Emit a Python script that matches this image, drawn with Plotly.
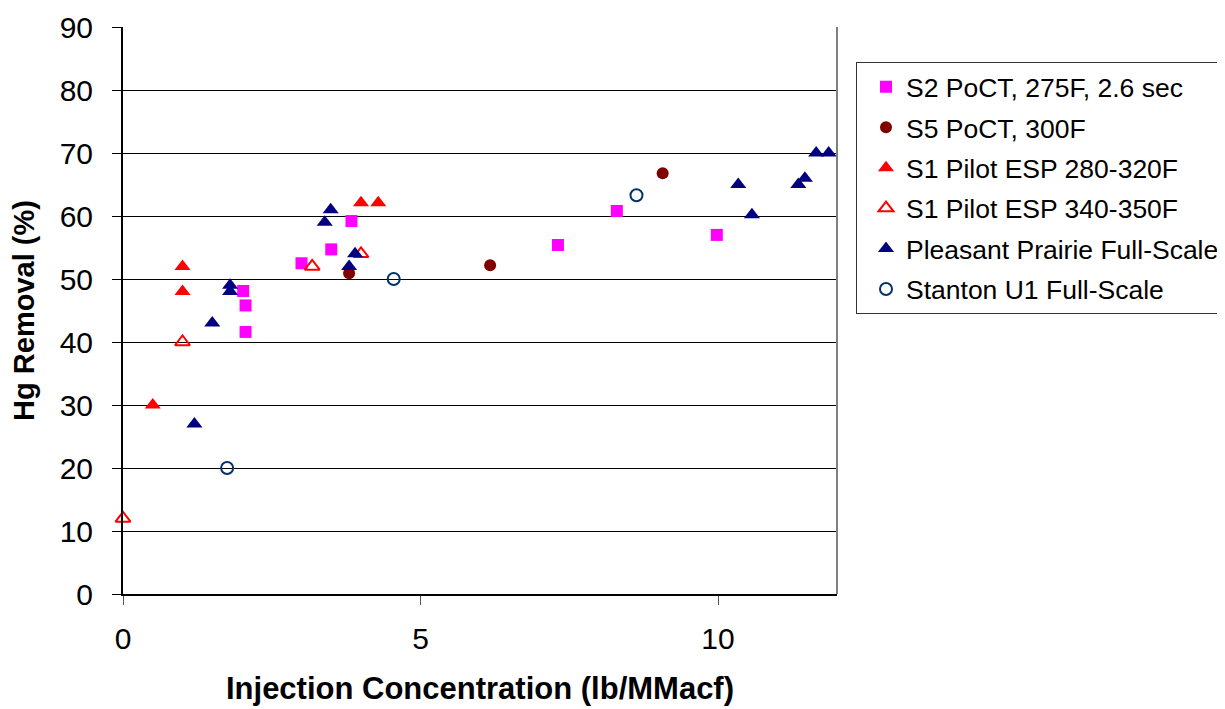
import plotly.graph_objects as go

# Data
s2_x = [2.02, 2.06, 2.06, 3.0, 3.5, 3.84, 7.31, 8.3, 9.98]
s2_y = [48.1, 45.8, 41.6, 52.5, 54.7, 59.2, 55.4, 60.8, 57.0]

s5_x = [3.8, 6.17, 9.07]
s5_y = [50.9, 52.2, 66.8]

s1a_x = [0.5, 1.0, 1.0, 4.0, 4.29]
s1a_y = [30.0, 48.0, 52.0, 62.1, 62.1]

s1b_x = [0.0, 1.0, 3.18, 4.0]
s1b_y = [12.0, 40.0, 52.0, 54.0]

pp_x = [1.2, 1.5, 1.8, 1.8, 3.39, 3.49, 3.8, 3.9, 10.34, 10.57, 11.35, 11.46, 11.65, 11.86]
pp_y = [27.0, 43.0, 48.0, 49.0, 59.0, 61.0, 52.0, 54.0, 65.0, 60.2, 65.0, 66.0, 70.0, 70.0]

st_x = [1.75, 4.55, 8.63]
st_y = [20.0, 50.0, 63.3]

names = ["S2 PoCT, 275F, 2.6 sec", "S5 PoCT, 300F", "S1 Pilot ESP 280-320F",
         "S1 Pilot ESP 340-350F", "Pleasant Prairie Full-Scale", "Stanton U1 Full-Scale"]

x_ticks = [0, 5, 10]
y_ticks = [0, 10, 20, 30, 40, 50, 60, 70, 80, 90]

FONT = "Liberation Sans, Arial, sans-serif"

fig = go.Figure()

series = [
    (s2_x, s2_y, dict(symbol="square", size=12, color="#FF00FF")),
    (s5_x, s5_y, dict(symbol="circle", size=12, color="#800000")),
    (s1a_x, s1a_y, dict(symbol="triangle-up", size=14, color="#FF0000")),
    (s1b_x, s1b_y, dict(symbol="triangle-up-open", size=13, color="#FF0000", line=dict(width=2, color="#FF0000"))),
    (pp_x, pp_y, dict(symbol="triangle-up", size=14, color="#000080")),
    (st_x, st_y, dict(symbol="circle-open", size=12, color="#003366", line=dict(width=2, color="#003366"))),
]

for i, (xs, ys, mk) in enumerate(series):
    fig.add_trace(go.Scatter(x=xs, y=ys, mode="markers", name=names[i], marker=mk,
                             cliponaxis=False, legendgroup=f"g{i}"))

# page body adds an 8px offset, so margins are reduced accordingly
L, T, R_EDGE, B_EDGE = 115, 19, 829, 586
fig.update_layout(
    width=1225, height=709,
    margin=dict(l=L, r=1225 - R_EDGE, t=T, b=709 - B_EDGE, autoexpand=False),
    paper_bgcolor="white", plot_bgcolor="white",
    font=dict(family=FONT, color="black"),
    legend=dict(
        x=(848 - L) / (R_EDGE - L), y=(B_EDGE - 54) / (B_EDGE - T), xanchor="left", yanchor="top",
        bordercolor="#333333", borderwidth=1, bgcolor="white",
        font=dict(size=26.5, family=FONT, color="black"),
        tracegroupgap=3, itemsizing="trace", indentation=9,
    ),
    shapes=[dict(type="line", xref="paper", yref="paper", x0=1, x1=1, y0=0, y1=1,
                 line=dict(color="#808080", width=2))],
)

fig.update_xaxes(
    range=[0, 12], tickvals=x_ticks, ticktext=[str(v) for v in x_ticks],
    ticks="outside", ticklen=9, tickcolor="#555555", tickwidth=1,
    showline=True, linecolor="black", linewidth=1.5, showgrid=False, zeroline=False,
    tickfont=dict(size=30, family=FONT), ticklabelstandoff=8, automargin=False,
    title=dict(text="<b>Injection Concentration (lb/MMacf)</b>", font=dict(size=31, family=FONT), standoff=24),
)
fig.update_yaxes(
    range=[0, 90], tickvals=y_ticks,
    ticks="outside", ticklen=9, tickcolor="black", tickwidth=1,
    showline=True, linecolor="black", linewidth=2, showgrid=True, gridcolor="black", gridwidth=1,
    zeroline=False, automargin=False,
    tickfont=dict(size=30, family=FONT), ticklabelstandoff=13,
    title=dict(text="<b>Hg Removal (%)</b>", font=dict(size=29, family=FONT), standoff=18),
)

fig.write_html("out.html")
